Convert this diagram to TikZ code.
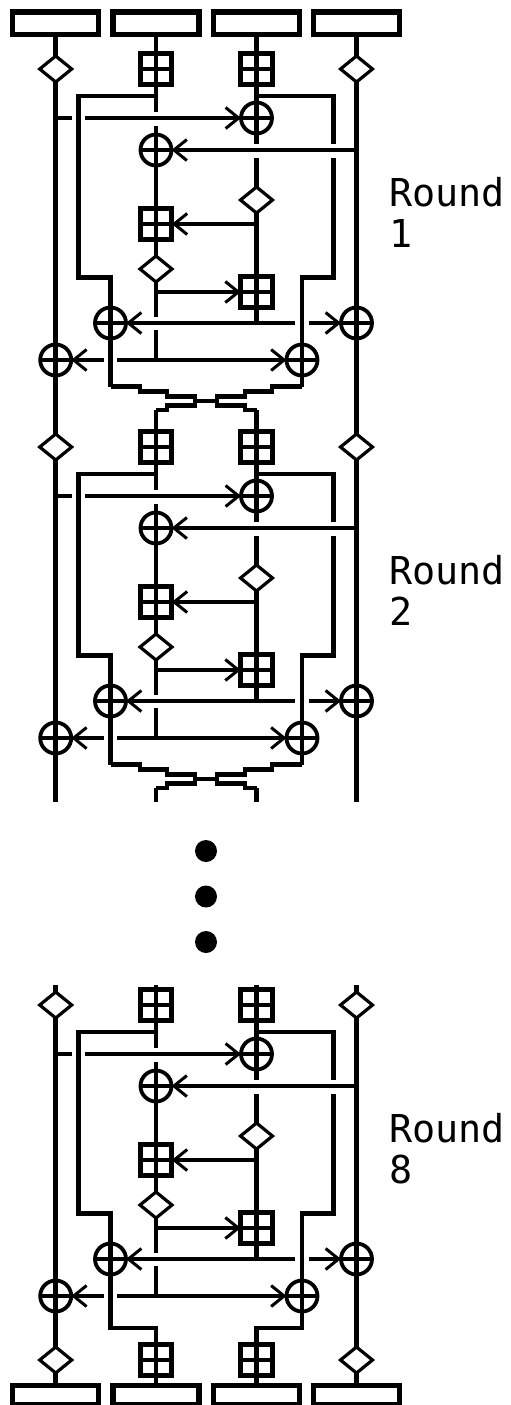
\documentclass[tikz,border=0pt]{standalone}
\usepackage{fontspec}
\setmainfont{DejaVu Sans Mono}
\usetikzlibrary{positioning,shapes.geometric,arrows.meta,calc}

\begin{document}
\begin{tikzpicture}[
    x=0.5pt, y=-0.5pt,
    wire/.style={line width=2.4pt},
    flow/.style={line width=2.4pt, -{Straight Barb[length=6.5pt,width=10.5pt,line width=1.5pt]}},
    bar/.style={rectangle, draw, line width=2.6pt, fill=white, inner sep=0pt, outer sep=0pt, minimum width=43pt, minimum height=11.3pt},
    mul/.style={diamond, draw, line width=1.6pt, fill=white, inner sep=0pt, outer sep=0pt, aspect=1.33, minimum width=16pt, minimum height=13pt},
    key/.style={rectangle, draw, line width=2.6pt, fill=white, inner sep=0pt, outer sep=0pt, minimum size=15.8pt,
        path picture={\draw[line width=2.2pt] (path picture bounding box.north) -- (path picture bounding box.south)
            (path picture bounding box.west) -- (path picture bounding box.east);}},
    add/.style={circle, draw, line width=1.9pt, fill=white, inner sep=0pt, outer sep=0pt, minimum size=15.5pt,
        path picture={\draw[line width=2.4pt] (path picture bounding box.north) -- (path picture bounding box.south)
            (path picture bounding box.west) -- (path picture bounding box.east);}},
    label/.style={align=left, anchor=north west, inner sep=0pt, font=\fontsize{19.2}{20.5}\selectfont}
]
\useasboundingbox (0,0) rectangle (510,1405);

% Plaintext bars on top
\node[bar] (topA) at (55.7,23.3) {};
\node[bar] (topB) at (156,23.3) {};
\node[bar] (topC) at (256.5,23.3) {};
\node[bar] (topD) at (356.5,23.3) {};

% One block for every round, shifted down the page
\foreach \r/\yo/\name in {1/0/1, 2/378/2, 8/936/8} {
\begin{scope}[shift={(0,\yo)}]
    \node[mul] (inA\r) at (55.7,69) {};
    \node[key] (inB\r) at (156,69) {};
    \node[key] (inC\r) at (256.5,69) {};
    \node[mul] (inD\r) at (356.5,69) {};
    \node[add] (addC\r) at (256.5,118) {};
    \node[add] (addB\r) at (156,150) {};
    \node[mul] (mulC\r) at (256.5,200) {};
    \node[key] (keyB\r) at (156,224) {};
    \node[mul] (mulB\r) at (156,269) {};
    \node[key] (keyC\r) at (256.5,292) {};
    \node[add] (mixL\r) at (110.5,323) {};
    \node[add] (mixD\r) at (356.5,323) {};
    \node[add] (mixA\r) at (55.7,360) {};
    \node[add] (mixR\r) at (302,360) {};
    \node[label] (name\r) at (389,177) {Round\\\name};

    % Branch points and the ends of the gaps at crossings
    \coordinate (splitB\r) at (156,96);
    \coordinate (stopB\r) at (156,112);
    \coordinate (resB\r) at (156,126);
    \coordinate (splitC\r) at (256.5,96);
    \coordinate (stopC\r) at (256.5,144);
    \coordinate (resC\r) at (256.5,158);
    \coordinate (tapA\r) at (55.7,118);
    \coordinate (stopA\r) at (72,118);
    \coordinate (resA\r) at (85,118);
    \coordinate (tapD\r) at (356.5,150);
    \coordinate (tapC\r) at (256.5,224);
    \coordinate (tapB\r) at (156,292);
    \coordinate (tapK\r) at (256.5,323);
    \coordinate (stopK\r) at (295,323);
    \coordinate (resK\r) at (309,323);
    \coordinate (stopM\r) at (156,317);
    \coordinate (resM\r) at (156,330);
    \coordinate (tapM\r) at (156,360);
    \coordinate (resL\r) at (117,360);
    \coordinate (stopL\r) at (104,360);
    \coordinate (bendL\r) at (78.5,277.5);
    \coordinate (bendR\r) at (302,277.5);
    \coordinate (stopR\r) at (333.5,144);
    \coordinate (resR\r) at (333.5,158);
    \coordinate (lowL\r) at (110.5,386.5);
    \coordinate (lowR\r) at (302,386.5);

    % Vertical wires
    \draw[wire] (inA\r) -- (mixA\r);
    \draw[wire] (inD\r) -- (mixD\r);
    \draw[wire] (inB\r) -- (stopB\r);
    \draw[wire] (resB\r) -- (addB\r);
    \draw[wire] (addB\r) -- (keyB\r);
    \draw[wire] (keyB\r) -- (mulB\r);
    \draw[wire] (mulB\r) -- (stopM\r);
    \draw[wire] (resM\r) -- (tapM\r);
    \draw[wire] (inC\r) -- (addC\r);
    \draw[wire] (addC\r) -- (stopC\r);
    \draw[wire] (resC\r) -- (mulC\r);
    \draw[wire] (mulC\r) -- (keyC\r);
    \draw[wire] (keyC\r) -- (tapK\r);

    % Outer branches
    \draw[wire] (splitB\r) -| (bendL\r) -| (mixL\r);
    \draw[wire] (mixL\r) -- (lowL\r);
    \draw[wire] (splitC\r) -| (stopR\r);
    \draw[wire] (resR\r) |- (bendR\r) -- (mixR\r);
    \draw[wire] (mixR\r) -- (lowR\r);

    % Horizontal wires into the operators
    \draw[wire] (tapA\r) -- (stopA\r);
    \draw[flow] (resA\r) -- (addC\r);
    \draw[flow] (tapD\r) -- (addB\r);
    \draw[flow] (tapC\r) -- (keyB\r);
    \draw[flow] (tapB\r) -- (keyC\r);
    \draw[flow] (tapK\r) -- (mixL\r);
    \draw[wire] (tapK\r) -- (stopK\r);
    \draw[flow] (resK\r) -- (mixD\r);
    \draw[flow] (tapM\r) -- (mixR\r);
    \draw[wire] (tapM\r) -- (resL\r);
    \draw[flow] (stopL\r) -- (mixA\r);
\end{scope}
}

% Swap of the two middle lines after rounds 1 and 2
\foreach \r in {1,2} {
    \draw[wire] (lowL\r) -- ++(29.5,0) -- ++(0,5) -- ++(27,0) -- ++(0,5) -- ++(28,0) -- ++(0,4.5)
        -- ++(22,0) -- ++(0,4.5) -- ++(28,0) -- ++(0,4.5) -- ++(11.5,0) coordinate (crossC\r);
    \draw[wire] (lowR\r) -- ++(-30,0) -- ++(0,5) -- ++(-27,0) -- ++(0,5) -- ++(-28,0) -- ++(0,4.5)
        -- ++(-22,0) -- ++(0,4.5) -- ++(-28,0) -- ++(0,4.5) -- ++(-11,0) coordinate (crossB\r);
}

% Between rounds
\coordinate (endA) at (55.7,802);
\coordinate (endB) at (156,802);
\coordinate (endC) at (256.5,802);
\coordinate (endD) at (356.5,802);
\coordinate (startA) at (55.7,985);
\coordinate (startB) at (156,985);
\coordinate (startC) at (256.5,985);
\coordinate (startD) at (356.5,985);

\draw[wire] (topA) -- (inA1);
\draw[wire] (topB) -- (inB1);
\draw[wire] (topC) -- (inC1);
\draw[wire] (topD) -- (inD1);
\draw[wire] (mixA1) -- (inA2);
\draw[wire] (mixD1) -- (inD2);
\draw[wire] (crossB1) -- (inB2);
\draw[wire] (crossC1) -- (inC2);
\draw[wire] (mixA2) -- (endA);
\draw[wire] (mixD2) -- (endD);
\draw[wire] (crossB2) -- (endB);
\draw[wire] (crossC2) -- (endC);
\draw[wire] (startA) -- (inA8);
\draw[wire] (startB) -- (inB8);
\draw[wire] (startC) -- (inC8);
\draw[wire] (startD) -- (inD8);

% Dots for the left out rounds
\fill (206,851) circle (5.5pt);
\fill (206,896.5) circle (5.5pt);
\fill (206,942) circle (5.5pt);

% Output layer
\node[mul] (outA) at (55.7,1360) {};
\node[key] (outB) at (156,1360) {};
\node[key] (outC) at (256.5,1360) {};
\node[mul] (outD) at (356.5,1360) {};
\node[bar, minimum height=9.8pt] (botA) at (55.7,1395) {};
\node[bar, minimum height=9.8pt] (botB) at (156,1395) {};
\node[bar, minimum height=9.8pt] (botC) at (256.5,1395) {};
\node[bar, minimum height=9.8pt] (botD) at (356.5,1395) {};
\coordinate (turnL) at (110.5,1328);
\coordinate (turnR) at (302,1328);

\draw[wire] (mixA8) -- (outA);
\draw[wire] (mixD8) -- (outD);
\draw[wire] (lowL8) -- (turnL) -| (outB);
\draw[wire] (lowR8) -- (turnR) -| (outC);
\draw[wire] (outA) -- (botA);
\draw[wire] (outB) -- (botB);
\draw[wire] (outC) -- (botC);
\draw[wire] (outD) -- (botD);

\end{tikzpicture}
\end{document}
